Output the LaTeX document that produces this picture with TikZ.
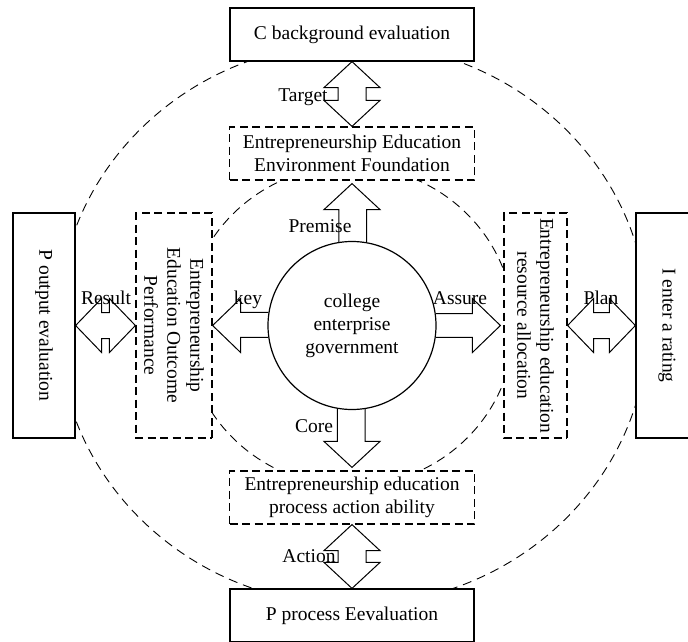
\documentclass[tikz,border=0pt]{standalone}
\usepackage{fontspec}
\setmainfont{Liberation Serif}
\usetikzlibrary{calc}
\tikzset{
  solidbox/.style = {draw, fill=white, line width=1.2pt, inner sep=0pt, align=center},
  dashbox/.style = {solidbox, dash pattern=on 8pt off 4.5pt},
  ring/.style = {line width=0.9pt, dash pattern=on 9pt off 6pt},
  blk/.style = {line width=1pt, line join=miter},
  lbl/.style = {anchor=base, inner sep=0pt}
}
\newcommand{\dblv}[2]{%
  \draw[blk] let \p1=#1, \p2=#2 in
    (\p1) -- (\x1+28pt,\y1-26pt) -- (\x1+14pt,\y1-26pt) -- (\x1+14pt,\y2+26pt)
    -- (\x1+28pt,\y2+26pt) -- (\x1,\y2) -- (\x1-28pt,\y2+26pt) -- (\x1-14pt,\y2+26pt)
    -- (\x1-14pt,\y1-26pt) -- (\x1-28pt,\y1-26pt) -- cycle;}
\newcommand{\dblh}[2]{%
  \draw[blk] let \p1=#1, \p2=#2 in
    (\p1) -- (\x1+26pt,\y1+27pt) -- (\x1+26pt,\y1+13pt) -- (\x2-26pt,\y1+13pt)
    -- (\x2-26pt,\y1+27pt) -- (\x2,\y1) -- (\x2-26pt,\y1-27pt) -- (\x2-26pt,\y1-13pt)
    -- (\x1+26pt,\y1-13pt) -- (\x1+26pt,\y1-27pt) -- cycle;}
\newcommand{\sglv}[4]{%
  \draw[blk] let \p1=#1, \p2=#2, \p3=#3 in
    (\p1) -- (\x1,{\y3+(#4pt)}) -- (\x3-28pt,{\y3+(#4pt)}) -- (\p3)
    -- (\x3+28pt,{\y3+(#4pt)}) -- (\x2,{\y3+(#4pt)}) -- (\p2);}
\newcommand{\sglh}[4]{%
  \draw[blk] let \p1=#1, \p2=#2, \p3=#3 in
    (\p1) -- ({\x3+(#4pt)},\y1) -- ({\x3+(#4pt)},\y3+27pt) -- (\p3)
    -- ({\x3+(#4pt)},\y3-27pt) -- ({\x3+(#4pt)},\y2) -- (\p2);}
\begin{document}
\begin{tikzpicture}[x=1pt, y=1pt, every node/.style={font=\fontsize{19.5}{23}\selectfont}]
  \path[use as bounding box, clip] (0,0) rectangle (688,-642);
  \draw[ring] (353,-324) ellipse [x radius=295, y radius=281];
  \draw[ring] (350,-326) ellipse [x radius=164, y radius=160];

  \node[solidbox, minimum width=244, minimum height=53] (cbg) at (352,-34.5) {C background evaluation};
  \node[dashbox, minimum width=245, minimum height=53] (env) at (352,-153.5)
    {Entrepreneurship Education\\Environment Foundation};
  \node[dashbox, minimum width=245, minimum height=53] (proc) at (352,-497.5)
    {Entrepreneurship education\\process action ability};
  \node[solidbox, minimum width=244, minimum height=53] (pbot) at (352,-615.5) {P process Eevaluation};
  \node[solidbox, rotate=-90, minimum width=225, minimum height=62] (pout) at (44,-325.5) {P output evaluation};
  \node[dashbox, rotate=-90, minimum width=225, minimum height=76] (outc) at (174,-325.5)
    {Entrepreneurship\\Education Outcome\\Performance};
  \node[dashbox, rotate=-90, minimum width=225, minimum height=63] (alloc) at (535.5,-325.5)
    {Entrepreneurship education\\resource allocation};
  \node[solidbox, rotate=-90, minimum width=225, minimum height=62] (irate) at (667,-325.5) {I enter a rating};
  \node[solidbox, circle, minimum size=168] (circ) at (352,-325.5)
    {college\\enterprise\\government};

  \dblv{(cbg.south)}{(env.north)}
  \dblv{(proc.south)}{(pbot.north)}
  \dblh{(pout.north)}{(outc.south)}
  \dblh{(alloc.north)}{(irate.south)}
  \sglv{(circ.99.6)}{(circ.80.4)}{($(env.south)+(0,-3)$)}{-26}
  \sglv{(circ.260.4)}{(circ.279.6)}{($(proc.north)+(0,3)$)}{26}
  \sglh{(circ.171.1)}{(circ.188.9)}{(outc.north)}{28}
  \sglh{(circ.8.9)}{(circ.-8.9)}{($(alloc.south)+(-3,0)$)}{-28}

  \node[lbl] (ltarget) at (303,-101) {Target};
  \node[lbl] (lpremise) at (320,-232) {Premise};
  \node[lbl] (lcore) at (314,-432) {Core};
  \node[lbl] (laction) at (309,-562) {Action};
  \node[lbl] (lresult) at (106,-304) {Result};
  \node[lbl] (lkey) at (248,-304) {key};
  \node[lbl] (lassure) at (460,-304) {Assure};
  \node[lbl] (lplan) at (601,-304) {Plan};
\end{tikzpicture}
\end{document}
